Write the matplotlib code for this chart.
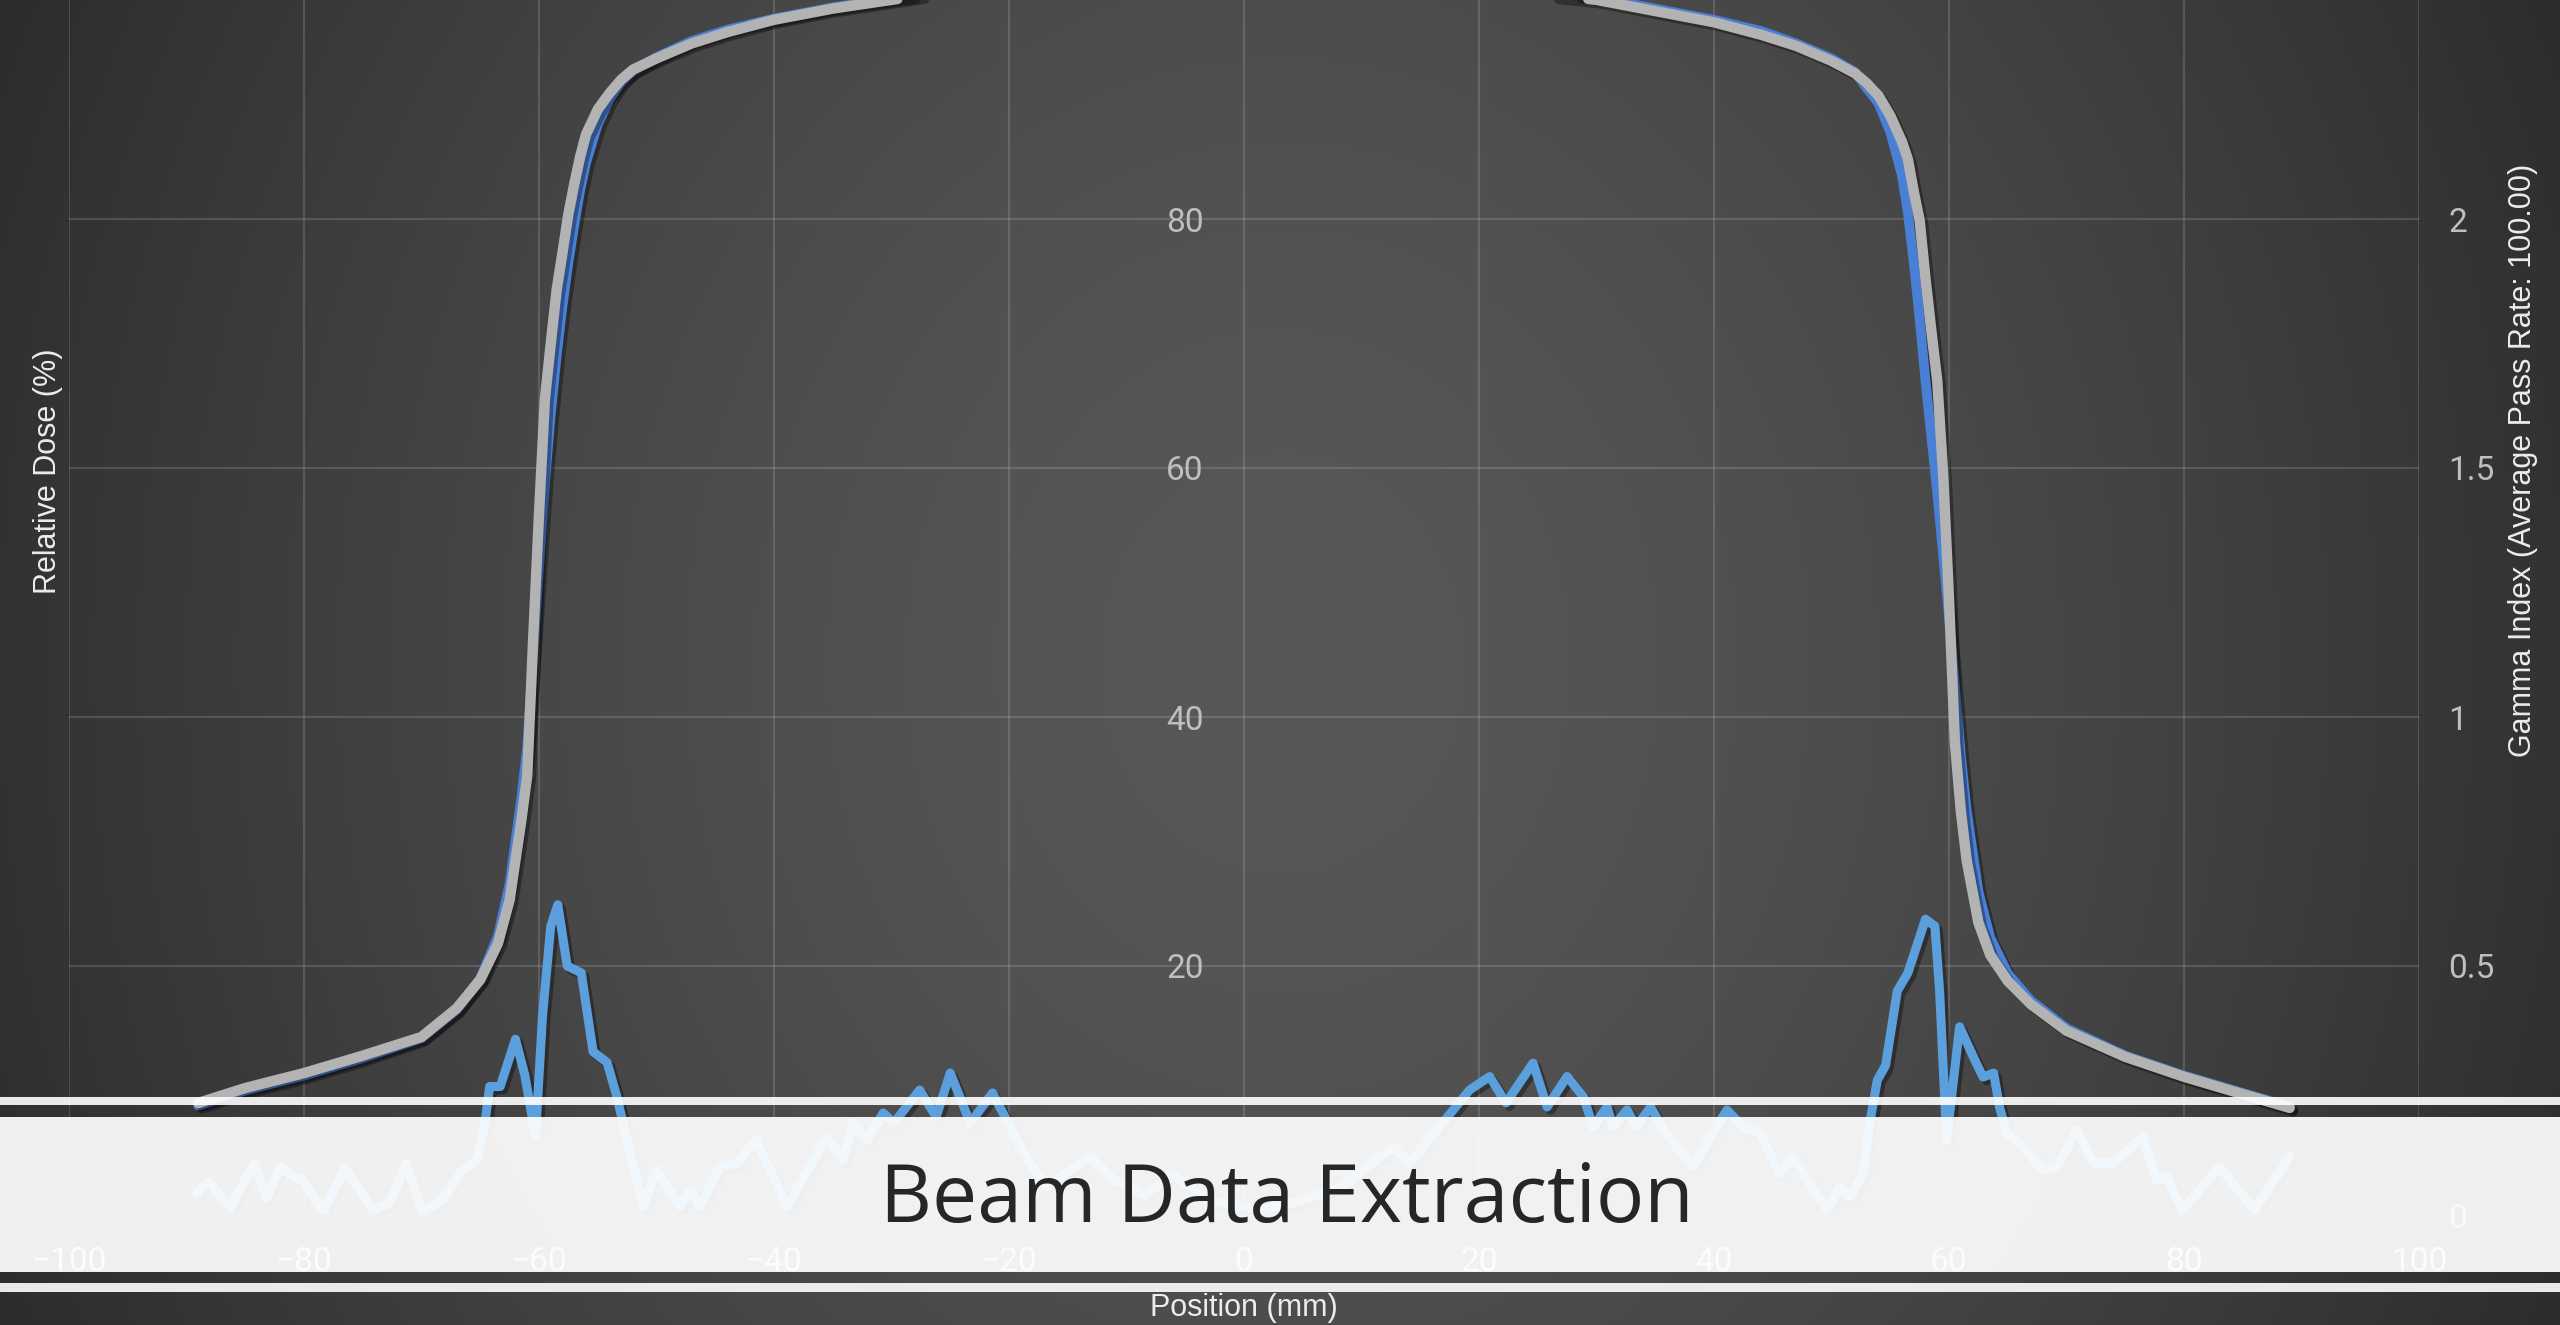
import numpy as np
import matplotlib
matplotlib.use('Agg')
import matplotlib.pyplot as plt
import matplotlib.patheffects as pe
from matplotlib.patches import Rectangle
from matplotlib import font_manager

# dose profiles (mm, %)
positions = [-89, -85, -80, -75, -70, -67, -65, -63.5, -62.5, -61.5, -61, -60.5, -60, -59.5,
             -59, -58.5, -58, -57.5, -57, -56.5, -56, -55, -54, -53, -52, -50, -47, -44, -40,
             -35, -30, -25, -20, -15, -10, -5, 0, 5, 10, 15, 20, 25, 30, 35, 40, 44, 47, 50,
             52, 53, 54, 55, 56, 56.5, 57, 57.5, 58, 58.5, 59, 59.5, 60, 60.5, 61, 61.5, 62.5,
             63.5, 65, 67, 70, 75, 80, 85, 89]
dose_reference = [9.0, 10.2, 11.4, 12.8, 14.3, 16.6, 18.9, 21.8, 25.3, 31.7, 35.3, 46.2, 56.3, 65.5,
                  70.0, 74.3, 77.3, 80.4, 82.8, 85.0, 86.8, 88.8, 90.1, 91.2, 92.0, 92.9, 94.1, 95.0, 96.0,
                  96.9, 97.6, 98.3, 98.8, 99.3, 99.7, 100.0, 100.0, 99.9, 99.6, 99.2, 98.7, 98.1, 97.6,
                  96.7, 95.8, 94.8, 93.9, 92.7,
                  91.7, 90.9, 89.9, 88.3, 86.2, 84.8, 82.2, 79.9, 75.2, 71.0, 67.0, 59.5, 49.5, 38.0,
                  32.5, 28.5, 23.5,
                  20.9, 18.8, 16.9, 14.8, 12.7, 11.1, 9.7, 8.6]
dose_measured = [8.8, 10.0, 11.2, 12.6, 14.2, 16.5, 19.0, 22.4, 26.6, 33.5, 37.6, 45.0, 52.0, 58.8,
                 64.3, 69.0, 73.0, 76.5, 79.5, 82.3, 84.5, 87.6, 89.6, 91.0, 91.9, 93.0, 94.3, 95.2, 96.1,
                 97.0, 97.7, 98.4, 99.0, 99.4, 99.8, 100.0, 100.0, 99.9, 99.7, 99.3, 98.8, 98.3, 97.8,
                 96.9, 96.0, 95.1, 94.1, 92.9,
                 91.8, 90.5, 89.3, 87.0, 83.5, 80.5, 76.5, 72.0, 67.0, 62.5, 58.0, 53.0, 48.0, 42.5,
                 37.0, 32.5, 26.0,
                 22.3, 19.4, 17.2, 15.0, 12.8, 11.2, 9.8, 8.7]

# gamma index
gamma_positions = [-89.1, -88.1, -86.3, -84.2, -83.2, -82.0, -80.9, -80.1, -78.4, -76.5,
                   -74.1, -72.7, -71.3, -69.9, -68.2, -66.7, -65.2, -64.6, -64.2, -63.3,
                   -62.0, -61.2, -60.3, -59.7, -59.0, -58.4, -57.6, -56.4, -55.4, -54.2,
                   -53.4, -52.5, -51.1, -50.0, -48.0, -47.1, -46.3, -44.6, -43.2, -41.5,
                   -38.9, -35.5, -34.1, -33.3, -32.1, -30.7, -29.8, -27.6, -26.2, -25.0,
                   -23.3, -21.4, -19.9, -18.2, -16.8, -13.1, -11.1, -8.5, -6.0, -3.0,
                   1.4, 4.2, 8.4, 12.7, 14.1, 16.9, 19.2, 20.9, 22.3, 24.6,
                   25.8, 27.5, 28.9, 29.7, 30.9, 31.4, 32.6, 33.4, 34.6, 35.7,
                   38.2, 41.1, 42.5, 43.9, 45.6, 46.7, 49.6, 50.7, 51.6, 52.7,
                   53.3, 53.9, 54.6, 55.6, 56.5, 58.0, 58.8, 59.2, 59.8, 60.9,
                   62.3, 62.9, 63.8, 64.3, 64.9, 66.0, 68.0, 69.2, 70.9, 72.3,
                   74.0, 76.5, 77.7, 78.5, 79.9, 83.0, 86.0, 89.0]
gamma_index = [0.044, 0.067, 0.014, 0.104, 0.034, 0.097, 0.077, 0.070, 0.007, 0.094,
               0.010, 0.024, 0.104, 0.007, 0.030, 0.084, 0.114, 0.185, 0.258, 0.258,
               0.353, 0.28, 0.157, 0.40, 0.58, 0.623, 0.50, 0.486, 0.328, 0.306,
               0.24, 0.15, 0.017, 0.090, 0.017, 0.050, 0.017, 0.097, 0.104, 0.150,
               0.017, 0.157, 0.110, 0.185, 0.150, 0.205, 0.185, 0.251, 0.197, 0.285,
               0.185, 0.245, 0.177, 0.104, 0.057, 0.117, 0.070, 0.040, 0.080, 0.030,
               0.010, 0.024, 0.057, 0.137, 0.104, 0.185, 0.251, 0.278, 0.225, 0.305,
               0.217, 0.278, 0.237, 0.177, 0.217, 0.177, 0.211, 0.177, 0.217, 0.171,
               0.097, 0.211, 0.177, 0.164, 0.084, 0.117, 0.010, 0.057, 0.037, 0.084,
               0.191, 0.271, 0.30, 0.45, 0.486, 0.594, 0.58, 0.45, 0.15, 0.378,
               0.306, 0.277, 0.285, 0.217, 0.164, 0.144, 0.090, 0.097, 0.171, 0.104,
               0.104, 0.157, 0.070, 0.077, 0.010, 0.097, 0.010, 0.117]

x_ticks = [-100, -80, -60, -40, -20, 0, 20, 40, 60, 80, 100]
dose_ticks = [0, 20, 40, 60, 80, 100]
dose_tick_labels = ['', '20', '40', '60', '80', '']
gamma_ticks = [0, 0.5, 1, 1.5, 2]
gamma_tick_labels = ['0', '0.5', '1', '1.5', '2']

installed = {f.name for f in font_manager.fontManager.ttflist}
tick_font = 'Liberation Sans Narrow' if 'Liberation Sans Narrow' in installed else 'Roboto'
label_font = 'Liberation Sans'

W, H = 2560, 1325
fig = plt.figure(figsize=(W / 100, H / 100), dpi=100)

# dark radial background
bg = fig.add_axes([0, 0, 1, 1], zorder=-10)
yy, xx = np.mgrid[0:H:4, 0:W:4]
r = np.sqrt(((xx - W / 2) / (W / 2)) ** 2 + (0.45 * (yy - H / 2) / (H / 2)) ** 2)
v = np.clip(88 - 38 * r ** 1.5, 30, 255) / 255
bg.imshow(np.dstack([v, v, v]), extent=[0, 1, 0, 1], aspect='auto')
bg.axis('off')

ax = fig.add_axes([69 / W, 110 / H, 2350 / W, 1245 / H])
ax.set_facecolor('none')
ax.set_xlim(-100, 100)
ax.set_ylim(0, 100)
ax.set_xticks(x_ticks)
ax.set_yticks(dose_ticks)
ax.set_yticklabels(dose_tick_labels)
ax.grid(True, color='white', alpha=0.14, lw=1.5)
ax.set_axisbelow(True)
for s in ax.spines.values():
    s.set_visible(False)
ax.spines['left'].set_position(('data', 0))
ax.tick_params(axis='y', length=0, pad=29, labelsize=24, labelcolor='#bfbfbf',
               labelfontfamily=tick_font)
ax.tick_params(axis='x', length=0, pad=22, labelsize=24, labelcolor='#d9d9d9',
               labelfontfamily=tick_font)

shadow = [pe.SimpleLineShadow(offset=(2.5, -2.5), shadow_color='black', alpha=0.35), pe.Normal()]
ax.plot(positions, dose_measured, color='#4a7fd6', lw=7, solid_joinstyle='round',
        solid_capstyle='round', path_effects=shadow, zorder=3)
ax.plot(positions, dose_reference, color='#b3b3b3', lw=7.5, solid_joinstyle='round',
        solid_capstyle='round', path_effects=shadow, zorder=4)

ax2 = ax.twinx()
ax2.set_ylim(0, 2.5)
ax2.set_yticks(gamma_ticks)
ax2.set_yticklabels(gamma_tick_labels)
for s in ax2.spines.values():
    s.set_visible(False)
ax2.tick_params(axis='y', length=0, pad=21, labelsize=24, labelcolor='#bfbfbf',
                labelfontfamily=tick_font)
ax2.plot(gamma_positions, gamma_index, color='#5b9fdc', lw=6.5, solid_joinstyle='round',
         solid_capstyle='round', path_effects=shadow, zorder=3)

# axis titles
fig.text(48 / W, 1 - 471 / H, 'Relative Dose (%)', rotation=90, ha='center', va='center',
         fontsize=22, family=label_font, color='#ececec')
fig.text(2523 / W, 1 - 460 / H, 'Gamma Index (Average Pass Rate: 100.00)', rotation=90,
         ha='center', va='center', fontsize=22, family=label_font, color='#ececec')
fig.text(1244 / W, 1 - 1308 / H, 'Position (mm)', ha='center', va='center',
         fontsize=22, family=label_font, color='#ececec')

# title banner over the chart
fig.add_artist(Rectangle((0, (H - 1272) / H), 1, 155 / H, transform=fig.transFigure,
                         facecolor='white', alpha=0.93, edgecolor='none', zorder=10))
fig.add_artist(Rectangle((0, (H - 1105) / H), 1, 8 / H, transform=fig.transFigure,
                         facecolor='white', alpha=0.9, edgecolor='none', zorder=10))
fig.add_artist(Rectangle((0, (H - 1292) / H), 1, 9 / H, transform=fig.transFigure,
                         facecolor='white', alpha=0.9, edgecolor='none', zorder=10))
fig.text(1287 / W, 1 - 1222 / H, 'Beam Data Extraction', ha='center', va='baseline',
         fontsize=58, family='Open Sans', color='#262626', zorder=11)

fig.savefig('out.png', dpi=100)
